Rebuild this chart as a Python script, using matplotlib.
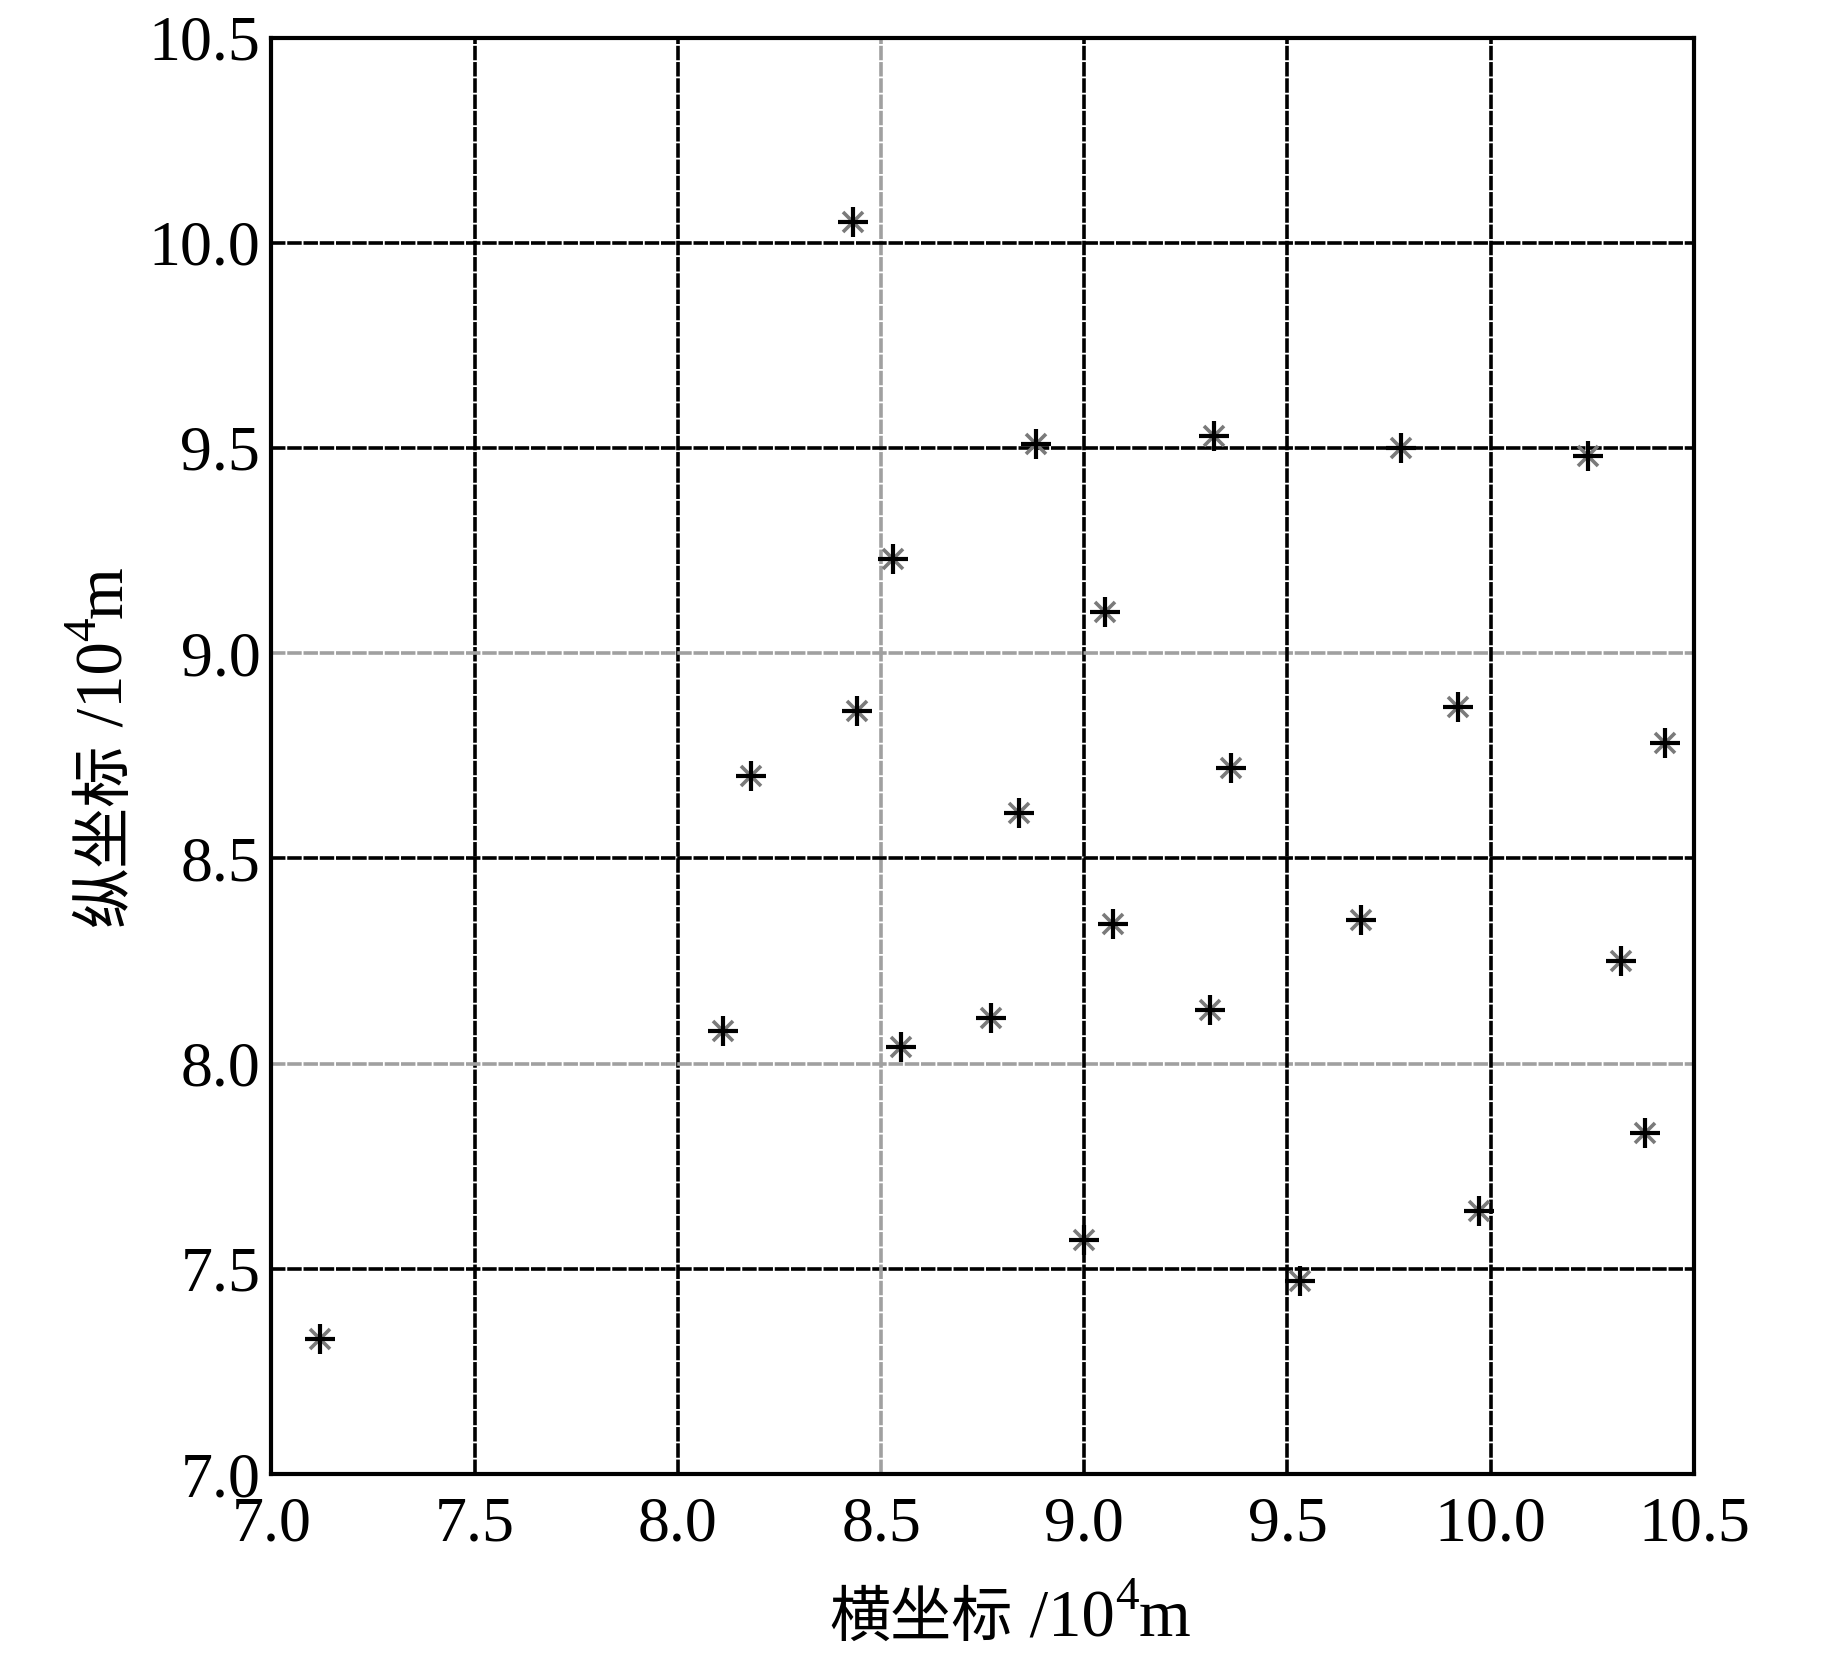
import matplotlib
matplotlib.use("Agg")
import matplotlib.pyplot as plt

# 点位坐标 (10^4 m)
x_coords = [7.12, 8.43, 8.88, 9.32, 9.78, 10.24, 8.53, 9.05, 8.44, 8.18, 8.84, 9.36, 9.92,
            10.43, 9.07, 9.68, 10.32, 8.11, 8.55, 8.77, 9.31, 10.38, 9.00, 9.97, 9.53]
y_coords = [7.33, 10.05, 9.51, 9.53, 9.50, 9.48, 9.23, 9.10, 8.86, 8.70, 8.61, 8.72, 8.87,
            8.78, 8.34, 8.35, 8.25, 8.08, 8.04, 8.11, 8.13, 7.83, 7.57, 7.64, 7.47]

ticks = [7.0, 7.5, 8.0, 8.5, 9.0, 9.5, 10.0, 10.5]
gray_x_lines = [8.5]
gray_y_lines = [9.0, 8.0]

x_label = ['横坐标', ' /10', '4', 'm']
y_label = ['纵坐标', ' /10', '4', 'm']

plt.rcParams['font.family'] = ['Liberation Serif', 'Noto Sans CJK SC']

W, H = 1843, 1654
fig = plt.figure(figsize=(W / 100, H / 100), dpi=100)
ax = fig.add_axes([0.1473, 0.1088, 0.7718, 0.8685])

# grid lines, black or gray dashed
for t in ticks[1:-1]:
    c = '#a0a0a0' if t in gray_x_lines else 'black'
    ax.axvline(t, color=c, lw=2.6, dashes=(4, 0.5), zorder=1)
    c = '#a0a0a0' if t in gray_y_lines else 'black'
    ax.axhline(t, color=c, lw=2.6, dashes=(4, 0.5), zorder=1)

# asterisk markers: gray x under black +
ax.plot(x_coords, y_coords, ls='none', marker='x', ms=14, mew=2.6, color='#7a7a7a', zorder=3)
ax.plot(x_coords, y_coords, ls='none', marker='+', ms=21, mew=3.0, color='black', zorder=4)

ax.set_xlim(7.0, 10.5)
ax.set_ylim(7.0, 10.5)
ax.set_xticks(ticks)
ax.set_yticks(ticks)
ax.set_xticklabels([f'{t:.1f}' for t in ticks])
ax.set_yticklabels([f'{t:.1f}' for t in ticks])
ax.tick_params(length=0, labelsize=46)
ax.tick_params(axis='x', pad=16)
ax.tick_params(axis='y', pad=8)
for sp in ax.spines.values():
    sp.set_linewidth(3.0)

# axis labels with superscript, built piece by piece (pixel coords)
fig.canvas.draw()
r = fig.canvas.get_renderer()
sizes = [44, 48, 34, 48]
rises = [0, 0, 27, 0]


def text_width(s, size):
    t = fig.text(0, 0, s, fontsize=size)
    w = t.get_window_extent(r).width
    t.remove()
    return w


widths = [text_width(s, fs) for s, fs in zip(x_label, sizes)]
total = sum(widths)

# x label: centred at x=1010, baseline at y=1636 (from top)
pos = 1010 - total / 2
for s, fs, w, up in zip(x_label, sizes, widths, rises):
    fig.text(pos / W, (H - 1636 + up) / H, s, fontsize=fs, ha='left', va='baseline')
    pos += w

# y label: rotated, baseline at x=122, centred at y=746 (from top)
widths = [text_width(s, fs) for s, fs in zip(y_label, sizes)]
total = sum(widths)
pos = (H - 746) - total / 2
for s, fs, w, up in zip(y_label, sizes, widths, rises):
    fig.text((122 - up) / W, pos / H, s, fontsize=fs, rotation=90,
             rotation_mode='anchor', ha='left', va='baseline')
    pos += w

fig.savefig('out.png', dpi=100)
